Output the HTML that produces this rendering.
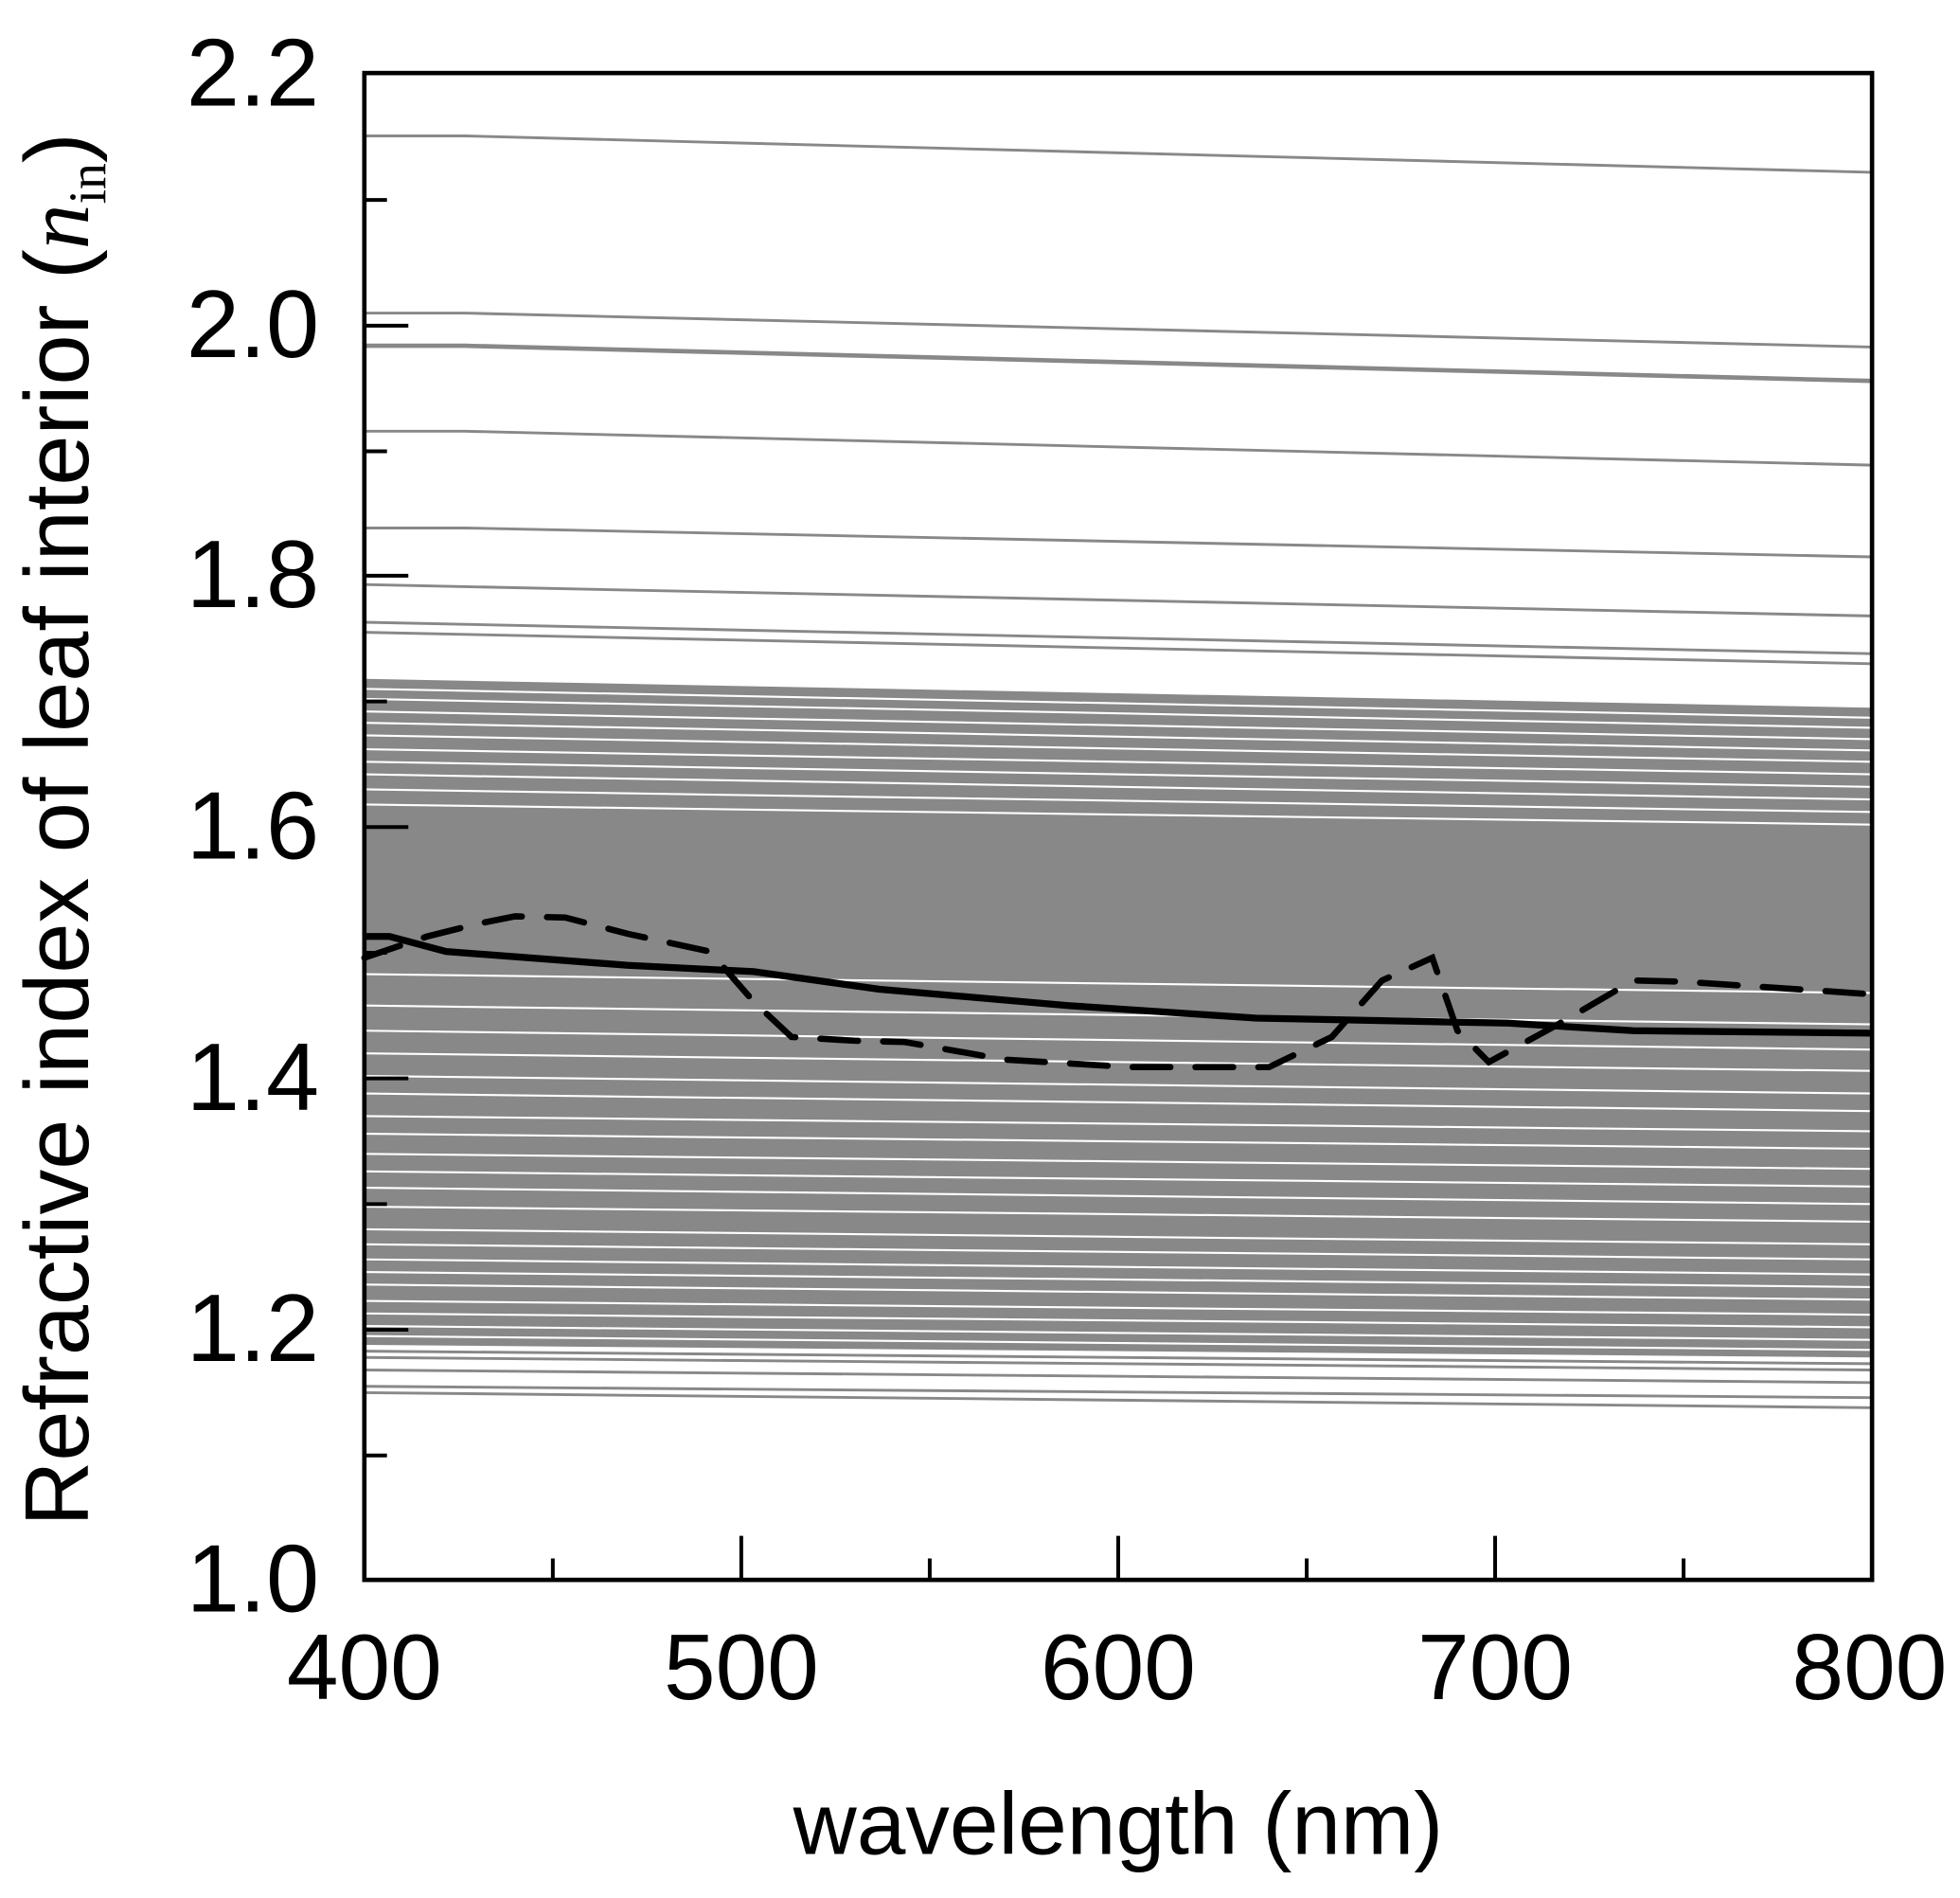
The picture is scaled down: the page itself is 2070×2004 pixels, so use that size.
<!DOCTYPE html>
<html><head><meta charset="utf-8"><style>html,body{margin:0;padding:0;background:#fff}svg{display:block}</style></head>
<body>
<svg width="2070" height="2004" viewBox="0 0 1560 1510" xmlns="http://www.w3.org/2000/svg" font-family="Liberation Sans, Arial, sans-serif">
<rect width="1560" height="1510" fill="#fff"/>
<polygon points="290,540 1490,563 1490,1080 290,1070" fill="#888"/>
<g stroke="#fff" stroke-width="1.6" fill="none">
<path d="M290,548 L1490,571"/><path d="M290,556 L1490,579"/><path d="M290,566 L1490,588"/><path d="M290,575 L1490,597"/><path d="M290,585 L1490,606"/><path d="M290,596 L1490,616"/><path d="M290,606 L1490,626"/><path d="M290,616 L1490,636"/><path d="M290,628 L1490,646"/><path d="M290,640 L1490,656"/>
<path d="M290,775 L1490,790"/><path d="M290,800 L1490,815"/><path d="M290,820 L1490,835"/><path d="M290,838 L1490,852"/><path d="M290,856 L1490,870"/><path d="M290,870 L1490,884"/><path d="M290,888 L1490,900"/><path d="M290,902 L1490,914"/><path d="M290,918 L1490,930"/><path d="M290,932 L1490,944"/><path d="M290,945 L1490,958"/><path d="M290,960 L1490,972"/><path d="M290,978 L1490,990"/><path d="M290,990 L1490,1002"/><path d="M290,1002 L1490,1014"/><path d="M290,1012 L1490,1024"/><path d="M290,1022 L1490,1034"/><path d="M290,1035 L1490,1046"/><path d="M290,1045 L1490,1056"/><path d="M290,1055 L1490,1066"/><path d="M290,1063 L1490,1074"/>
</g>
<g stroke="#888" stroke-width="2.2" fill="none">
<path d="M290,108 L370,108 L1490,137"/><path d="M290,249 L370,249 L1490,276"/><path d="M290,275 L370,275 L1490,303" stroke-width="3.5"/><path d="M290,343 L370,343 L1490,370"/><path d="M290,420 L370,420 L1490,443"/><path d="M290,465 L1490,490"/><path d="M290,495 L1490,520"/><path d="M290,503 L1490,528"/>
<path d="M290,1080 L1490,1090"/><path d="M290,1090 L1490,1100"/><path d="M290,1103 L1490,1112"/><path d="M290,1108 L1490,1120"/><path d="M290,1075 L1490,1085"/>
</g>
<path d="M290,745 L310,745 L355,757 L500,768 L600,773 L700,787 L850,800 L1000,810 L1200,814 L1300,820 L1490,822" stroke="#000" stroke-width="5.5" fill="none"/>
<path d="M290,762 L340,745 L380,735 L410,729 L450,730 L500,743 L565,757 L600,797 L630,825 L680,828 L720,829 L800,843 L900,849 L1010,849 L1060,825 L1100,780 L1140,762 L1160,820 L1185,845 L1240,815 L1300,780 L1340,781 L1490,791" stroke="#000" stroke-width="5" fill="none" stroke-dasharray="30,20" stroke-linecap="round"/>
<rect x="290" y="58" width="1200" height="1199" fill="none" stroke="#000" stroke-width="3.5"/>
<g stroke="#000" stroke-width="3">
<path d="M290,259 H325 M290,458 H325 M290,658 H325 M290,858 H325 M290,1058 H325"/>
<path d="M290,159 H308 M290,359 H308 M290,558 H308 M290,758 H308 M290,958 H308 M290,1158 H308"/>
<path d="M590,1257 V1222 M890,1257 V1222 M1190,1257 V1222"/>
<path d="M440,1257 V1240 M740,1257 V1240 M1040,1257 V1240 M1340,1257 V1240"/>
</g>
<g font-size="76" text-anchor="end" fill="#000">
<text x="254" y="84">2.2</text><text x="254" y="284">2.0</text><text x="254" y="483">1.8</text><text x="254" y="683">1.6</text><text x="254" y="883">1.4</text><text x="254" y="1083">1.2</text><text x="254" y="1282">1.0</text>
</g>
<g font-size="74" text-anchor="middle" fill="#000">
<text x="290" y="1352">400</text><text x="590" y="1352">500</text><text x="890" y="1352">600</text><text x="1190" y="1352">700</text><text x="1488" y="1352">800</text>
<text x="890" y="1475" font-size="70">wavelength (nm)</text>
</g>
<text transform="translate(70,660) rotate(-90)" font-size="72" text-anchor="middle" fill="#000">Refractive index of leaf interior (<tspan font-family="Liberation Serif, serif" font-style="italic">n</tspan><tspan font-family="Liberation Serif, serif" font-size="42" dy="14">in</tspan><tspan dy="-14">)</tspan></text>
</svg>
</body></html>
